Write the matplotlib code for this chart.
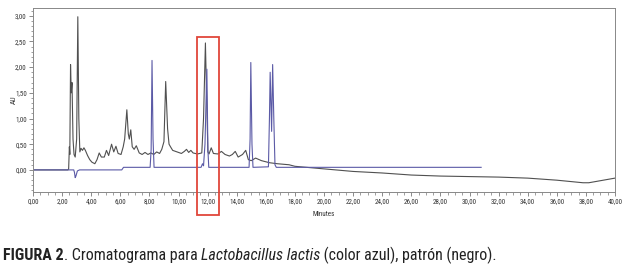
import matplotlib
matplotlib.use('Agg')
import matplotlib.pyplot as plt
from matplotlib import font_manager
from matplotlib.patches import Rectangle
from matplotlib.ticker import MultipleLocator, FuncFormatter

# Patrón (negro): tiempo (min), AU
patron_t = [0.0, 2.40, 2.45, 2.50, 2.53, 2.58, 2.63, 2.68, 2.75, 2.82, 2.90, 3.00, 3.08, 3.15,
            3.22, 3.30, 3.40, 3.50, 3.60, 3.75, 3.90, 4.05, 4.25, 4.40, 4.55, 4.70, 4.90, 5.05,
            5.20, 5.40, 5.55, 5.70, 5.85, 6.05, 6.20, 6.30, 6.45, 6.55, 6.62, 6.72, 6.82, 6.95,
            7.10, 7.30, 7.50, 7.70, 7.90, 8.10, 8.30, 8.50, 8.70, 8.85, 9.00, 9.12, 9.25, 9.35,
            9.45, 9.60, 9.80, 10.00, 10.20, 10.40, 10.55, 10.70, 10.85, 11.00, 11.30, 11.60,
            11.72, 11.85, 11.95, 12.02, 12.10, 12.25, 12.40, 12.70, 12.95, 13.20, 13.50, 13.70,
            13.90, 14.10, 14.40, 14.62, 14.80, 15.00, 15.30, 15.70, 16.25, 16.80, 17.60, 18.00,
            20.00, 22.00, 24.00, 26.00, 28.00, 30.00, 32.00, 34.00, 36.00, 37.80, 38.20, 40.00]
patron_au = [0.0, 0.0, 0.02, 0.45, 0.30, 2.05, 1.50, 1.70, 0.60, 0.30, 0.25, 0.60, 2.98, 1.00,
             0.35, 0.42, 0.38, 0.43, 0.38, 0.28, 0.20, 0.15, 0.12, 0.20, 0.33, 0.25, 0.25, 0.38,
             0.28, 0.50, 0.35, 0.46, 0.32, 0.30, 0.45, 0.60, 1.17, 0.70, 0.60, 0.78, 0.45, 0.40,
             0.47, 0.33, 0.30, 0.34, 0.30, 0.33, 0.30, 0.35, 0.32, 0.40, 0.55, 1.72, 0.80, 0.50,
             0.45, 0.38, 0.36, 0.34, 0.32, 0.36, 0.40, 0.34, 0.38, 0.33, 0.31, 0.33,
             1.00, 2.47, 1.20, 0.35, 0.31, 0.43, 0.32, 0.31, 0.36, 0.30, 0.27, 0.30,
             0.36, 0.25, 0.30, 0.38, 0.20, 0.18, 0.23, 0.18, 0.14, 0.12, 0.10, 0.07,
             0.02, -0.03, -0.06, -0.10, -0.12, -0.13, -0.14, -0.16, -0.20, -0.25, -0.25, -0.16]

# Lactobacillus lactis (azul)
lactis_t = [0.0, 2.80, 2.85, 2.90, 2.95, 3.05, 3.20, 6.10, 6.22, 8.05, 8.12, 8.18, 8.25, 8.32,
            11.55, 11.65, 11.72, 11.82, 11.95, 12.02, 12.08, 14.85, 14.92, 14.97, 15.05, 15.12,
            16.18, 16.25, 16.30, 16.40, 16.47, 16.55, 16.63, 16.72, 30.80]
lactis_au = [0.0, 0.0, -0.05, -0.15, -0.12, -0.02, 0.0, 0.0, 0.05, 0.05, 0.40, 2.13, 0.60, 0.05,
             0.05, 0.12, 0.08, 0.50, 1.96, 0.40, 0.05, 0.05, 0.60, 2.09, 0.50, 0.05,
             0.06, 1.00, 1.90, 0.75, 2.05, 1.00, 0.10, 0.05, 0.05]

# recuadro rojo (min, AU)
caja_x = [11.25, 12.76]
caja_y = [-0.88, 2.59]

# fuente estrecha si existe
condensed = ['DejaVu Sans']
for nombre in ['Liberation Sans Narrow', 'Roboto Condensed', 'Open Sans Condensed']:
    try:
        font_manager.findfont(nombre, fallback_to_default=False)
        condensed = [nombre, 'DejaVu Sans']
        break
    except Exception:
        pass

fig = plt.figure(figsize=(6.28, 2.67), dpi=100)
ax = fig.add_axes([33 / 628, 1 - 192 / 267, (615 - 33) / 628, (192 - 7.5) / 267])

ax.plot(patron_t, patron_au, color='#505050', lw=0.8)
ax.plot(lactis_t, lactis_au, color='#5b5aa6', lw=0.8)

ax.add_patch(Rectangle((caja_x[0], caja_y[0]), caja_x[1] - caja_x[0], caja_y[1] - caja_y[0],
                       fill=False, edgecolor='#e0463a', lw=1.3, clip_on=False, zorder=5))

ax.set_xlim(0, 40)
ax.set_ylim(-0.43, 3.16)
ax.xaxis.set_major_locator(MultipleLocator(2))
ax.xaxis.set_minor_locator(MultipleLocator(0.5))
ax.yaxis.set_major_locator(MultipleLocator(0.5))
ax.yaxis.set_minor_locator(MultipleLocator(0.1))
fmt = FuncFormatter(lambda v, p: ('%.2f' % v).replace('.', ','))
ax.xaxis.set_major_formatter(fmt)
ax.yaxis.set_major_formatter(fmt)
ax.set_yticks([0, 0.5, 1, 1.5, 2, 2.5, 3])
ax.tick_params(which='major', length=3, width=0.6, color='#777777', labelsize=5, pad=1.5,
               labelcolor='#333333')
ax.tick_params(which='minor', length=1.8, width=0.5, color='#777777')
for lab in ax.get_xticklabels() + ax.get_yticklabels():
    lab.set_family(condensed)
for s in ax.spines.values():
    s.set_color('#888888')
    s.set_linewidth(0.7)

ax.set_xlabel('Minutes', fontsize=5, family=condensed, color='#333333', labelpad=4)
ax.set_ylabel('AU', fontsize=5.5, family=condensed, color='#333333')
ax.yaxis.set_label_coords(-16 / 582, 0.5)

# pie de figura con estilos mezclados, ajustado al ancho del original
partes = [('FIGURA 2', 'bold', 'normal'), ('. Cromatograma para ', 'normal', 'normal'),
          ('Lactobacillus lactis', 'normal', 'italic'),
          (' (color azul), patrón (negro).', 'normal', 'normal')]
fig.canvas.draw()
r = fig.canvas.get_renderer()
ancho = 0
for txt, w, st in partes:
    t = fig.text(0, 0, txt, fontsize=10, weight=w, style=st, family=condensed)
    ancho += t.get_window_extent(renderer=r).width
    t.remove()
fs = 10 * 494 / ancho

x = 3
for txt, w, st in partes:
    t = fig.text(x / 628, 1 - 260 / 267, txt, fontsize=fs, weight=w, style=st,
                 family=condensed, color='#222222', va='baseline', ha='left')
    x += t.get_window_extent(renderer=r).width

fig.savefig('out.png', dpi=100)
